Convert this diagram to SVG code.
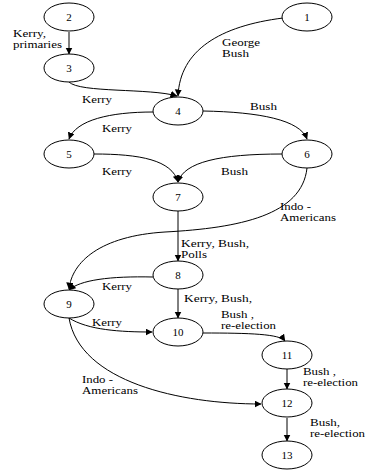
<svg xmlns="http://www.w3.org/2000/svg" width="371" height="473" viewBox="0 0 371 473">
  <style>
    .node ellipse { fill: #ffffff; stroke: #000000; stroke-width: 1; }
    .node text { font-family: "Liberation Serif", "DejaVu Serif", serif; font-size: 11px; text-anchor: middle; fill: #000000; }
    .edge { fill: none; stroke: #000000; stroke-width: 1; marker-end: url(#arrow); }
    .label { font-family: "Liberation Serif", "DejaVu Serif", serif; font-size: 10.5px; fill: #000000; }
  </style>
  <defs>
    <marker id="arrow" markerWidth="8" markerHeight="8" refX="6.5" refY="3.5" orient="auto" markerUnits="userSpaceOnUse">
      <path d="M0,0 L7,3.5 L0,7 Z" fill="#000000"/>
    </marker>
  </defs>
  <rect x="0" y="0" width="371" height="473" fill="#ffffff"/>

  <g id="connectors">
    <path class="edge" d="M69,32 L69,54"/>
    <path class="edge" d="M283,18 C220,26 180,50 178,96"/>
    <path class="edge" d="M69,82 C80,93 150,88 177,96"/>
    <path class="edge" d="M153,112 C110,112 76,120 69,139"/>
    <path class="edge" d="M203,111 C260,112 300,120 307,139"/>
    <path class="edge" d="M94,154 C140,154 172,160 178,182"/>
    <path class="edge" d="M282,154 C220,154 184,162 178,182"/>
    <path class="edge" d="M307,168 C302,215 240,228 165,232 C100,236 72,262 69,289"/>
    <path class="edge" d="M178,211 L178,261"/>
    <path class="edge" d="M153,277 C110,276 80,280 69,290"/>
    <path class="edge" d="M178,289 L178,318"/>
    <path class="edge" d="M69,318 C88,330 120,332 152,332"/>
    <path class="edge" d="M69,318 C80,382 180,404 261,404"/>
    <path class="edge" d="M203,333 C250,333 280,334 285,341"/>
    <path class="edge" d="M287,369 L287,389"/>
    <path class="edge" d="M287,418 L287,441"/>
  </g>

  <g id="edge-labels">
    <text class="label" x="13" y="37" textLength="33" lengthAdjust="spacingAndGlyphs">Kerry,</text>
    <text class="label" x="13" y="48" textLength="49" lengthAdjust="spacingAndGlyphs">primaries</text>
    <text class="label" x="222" y="46" textLength="38" lengthAdjust="spacingAndGlyphs">George</text>
    <text class="label" x="222" y="57" textLength="27" lengthAdjust="spacingAndGlyphs">Bush</text>
    <text class="label" x="82" y="103" textLength="30" lengthAdjust="spacingAndGlyphs">Kerry</text>
    <text class="label" x="250" y="110" textLength="27" lengthAdjust="spacingAndGlyphs">Bush</text>
    <text class="label" x="102" y="132" textLength="30" lengthAdjust="spacingAndGlyphs">Kerry</text>
    <text class="label" x="102" y="175" textLength="30" lengthAdjust="spacingAndGlyphs">Kerry</text>
    <text class="label" x="221" y="175" textLength="27" lengthAdjust="spacingAndGlyphs">Bush</text>
    <text class="label" x="280" y="210" textLength="31" lengthAdjust="spacingAndGlyphs">Indo -</text>
    <text class="label" x="280" y="221" textLength="56" lengthAdjust="spacingAndGlyphs">Americans</text>
    <text class="label" x="181" y="247" textLength="68" lengthAdjust="spacingAndGlyphs">Kerry, Bush,</text>
    <text class="label" x="181" y="258" textLength="26" lengthAdjust="spacingAndGlyphs">Polls</text>
    <text class="label" x="102" y="290" textLength="30" lengthAdjust="spacingAndGlyphs">Kerry</text>
    <text class="label" x="184" y="302" textLength="68" lengthAdjust="spacingAndGlyphs">Kerry, Bush,</text>
    <text class="label" x="92" y="326" textLength="30" lengthAdjust="spacingAndGlyphs">Kerry</text>
    <text class="label" x="221" y="318" textLength="33" lengthAdjust="spacingAndGlyphs">Bush ,</text>
    <text class="label" x="221" y="329" textLength="55" lengthAdjust="spacingAndGlyphs">re-election</text>
    <text class="label" x="303" y="375" textLength="33" lengthAdjust="spacingAndGlyphs">Bush ,</text>
    <text class="label" x="303" y="386" textLength="55" lengthAdjust="spacingAndGlyphs">re-election</text>
    <text class="label" x="82" y="383" textLength="31" lengthAdjust="spacingAndGlyphs">Indo -</text>
    <text class="label" x="82" y="394" textLength="56" lengthAdjust="spacingAndGlyphs">Americans</text>
    <text class="label" x="310" y="426" textLength="30" lengthAdjust="spacingAndGlyphs">Bush,</text>
    <text class="label" x="310" y="437" textLength="55" lengthAdjust="spacingAndGlyphs">re-election</text>
  </g>

  <g id="node-1" class="node"><ellipse cx="307" cy="17" rx="25" ry="14"/><text x="307" y="21">1</text></g>
  <g id="node-2" class="node"><ellipse cx="69" cy="17" rx="25" ry="14"/><text x="69" y="21">2</text></g>
  <g id="node-3" class="node"><ellipse cx="69" cy="68" rx="25" ry="14"/><text x="69" y="72">3</text></g>
  <g id="node-4" class="node"><ellipse cx="178" cy="111" rx="25" ry="14"/><text x="178" y="115">4</text></g>
  <g id="node-5" class="node"><ellipse cx="69" cy="154" rx="25" ry="14"/><text x="69" y="158">5</text></g>
  <g id="node-6" class="node"><ellipse cx="307" cy="154" rx="25" ry="14"/><text x="307" y="158">6</text></g>
  <g id="node-7" class="node"><ellipse cx="178" cy="197" rx="25" ry="14"/><text x="178" y="201">7</text></g>
  <g id="node-8" class="node"><ellipse cx="178" cy="275" rx="25" ry="14"/><text x="178" y="279">8</text></g>
  <g id="node-9" class="node"><ellipse cx="69" cy="304" rx="25" ry="14"/><text x="69" y="308">9</text></g>
  <g id="node-10" class="node"><ellipse cx="178" cy="332" rx="25" ry="14"/><text x="178" y="336">10</text></g>
  <g id="node-11" class="node"><ellipse cx="287" cy="355" rx="25" ry="14"/><text x="287" y="359">11</text></g>
  <g id="node-12" class="node"><ellipse cx="287" cy="403" rx="25" ry="14"/><text x="287" y="407">12</text></g>
  <g id="node-13" class="node"><ellipse cx="287" cy="455" rx="25" ry="14"/><text x="287" y="459">13</text></g>
</svg>
